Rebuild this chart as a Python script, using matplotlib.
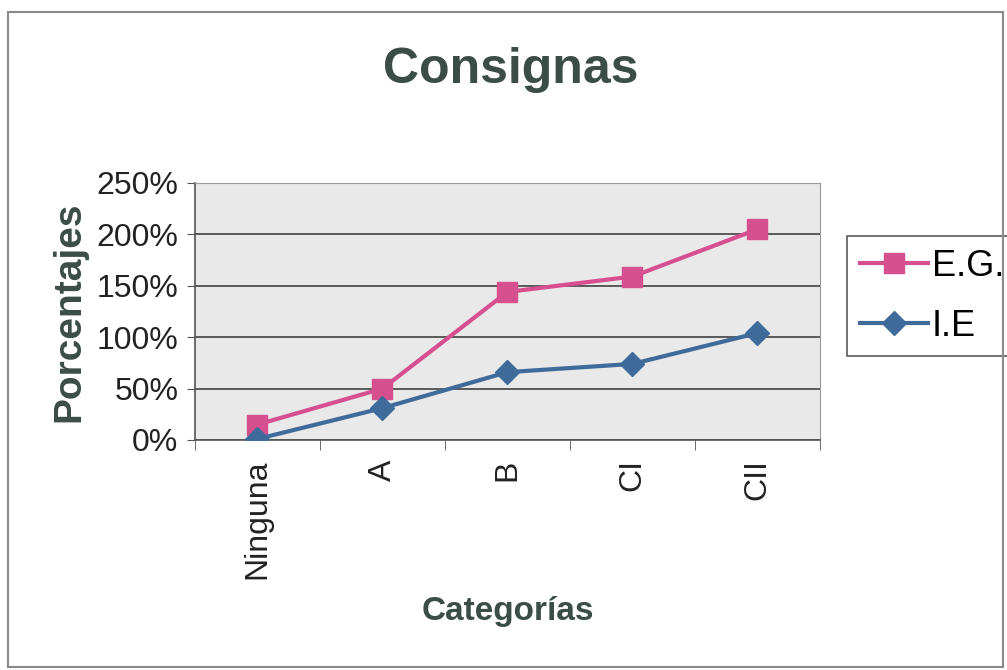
import numpy as np
import matplotlib.pyplot as plt
from matplotlib.patches import Rectangle
from matplotlib.ticker import FuncFormatter, FixedLocator

categories = ["Ninguna", "A", "B", "CI", "CII"]
eg_values = [15, 50, 144, 159, 205]
ie_values = [1, 31, 66, 74, 104]
y_ticks = [0, 50, 100, 150, 200, 250]

title_color = "#3b4d46"
pink = "#d64f8f"
blue = "#3f6b9a"

plt.rcParams['font.family'] = ['Liberation Sans', 'DejaVu Sans']

fig = plt.figure(figsize=(10.07, 6.70), dpi=100)
fig.patch.set_facecolor("white")

# outer chart border
fig.patches.append(Rectangle((0.008, 0.004), 0.988, 0.978, transform=fig.transFigure,
                             fill=False, edgecolor="#8a8a8a", linewidth=1.5))

ax = fig.add_axes([0.1936, 0.3433, 0.6207, 0.3836])
ax.set_facecolor("#e9e9e9")

x = np.arange(len(categories))
ax.plot(x, eg_values, color=pink, linewidth=3, marker="s", markersize=14,
        label="E.G.", zorder=3)
ax.plot(x, ie_values, color=blue, linewidth=3, marker="D", markersize=12,
        label="I.E", zorder=3)

ax.set_xlim(-0.5, len(categories) - 0.5)
ax.set_ylim(0, 250)
ax.set_yticks(y_ticks)
ax.yaxis.set_major_formatter(FuncFormatter(lambda v, _: f"{v:.0f}%"))
ax.grid(axis="y", color="#333333", linewidth=1.1)
ax.set_axisbelow(True)

ax.set_xticks(x)
ax.set_xticklabels(categories, rotation=90, fontsize=23)
ax.xaxis.set_minor_locator(FixedLocator(np.arange(-0.5, len(categories), 1.0)))
ax.tick_params(axis="x", which="major", length=0, pad=14)
ax.tick_params(axis="x", which="minor", length=7, color="#555555")
ax.tick_params(axis="y", length=6, color="#555555", labelsize=23, pad=6)
for lbl in ax.get_yticklabels() + ax.get_xticklabels():
    lbl.set_color("#222222")

for side in ["top", "right"]:
    ax.spines[side].set_color("#999999")
for side in ["left", "bottom"]:
    ax.spines[side].set_color("#555555")
    ax.spines[side].set_linewidth(1.2)

ax.set_ylabel("Porcentajes", fontsize=28, fontweight="bold", color=title_color)
ax.yaxis.set_label_coords(-0.172, 0.5)
ax.set_xlabel("Categorías", fontsize=24, fontweight="bold", color=title_color, labelpad=12)

fig.text(0.507, 0.895, "Consignas", fontsize=36, fontweight="bold",
         color=title_color, ha="center", va="center")

leg = ax.legend(loc="center left", bbox_to_anchor=(0.841, 0.558),
                bbox_transform=fig.transFigure, fontsize=26,
                frameon=True, fancybox=False, edgecolor="#333333",
                handlelength=1.9, handletextpad=0.1, borderpad=0.35,
                labelspacing=0.7, borderaxespad=0)
leg.get_frame().set_linewidth(1.2)

fig.savefig("out.png", dpi=100)
